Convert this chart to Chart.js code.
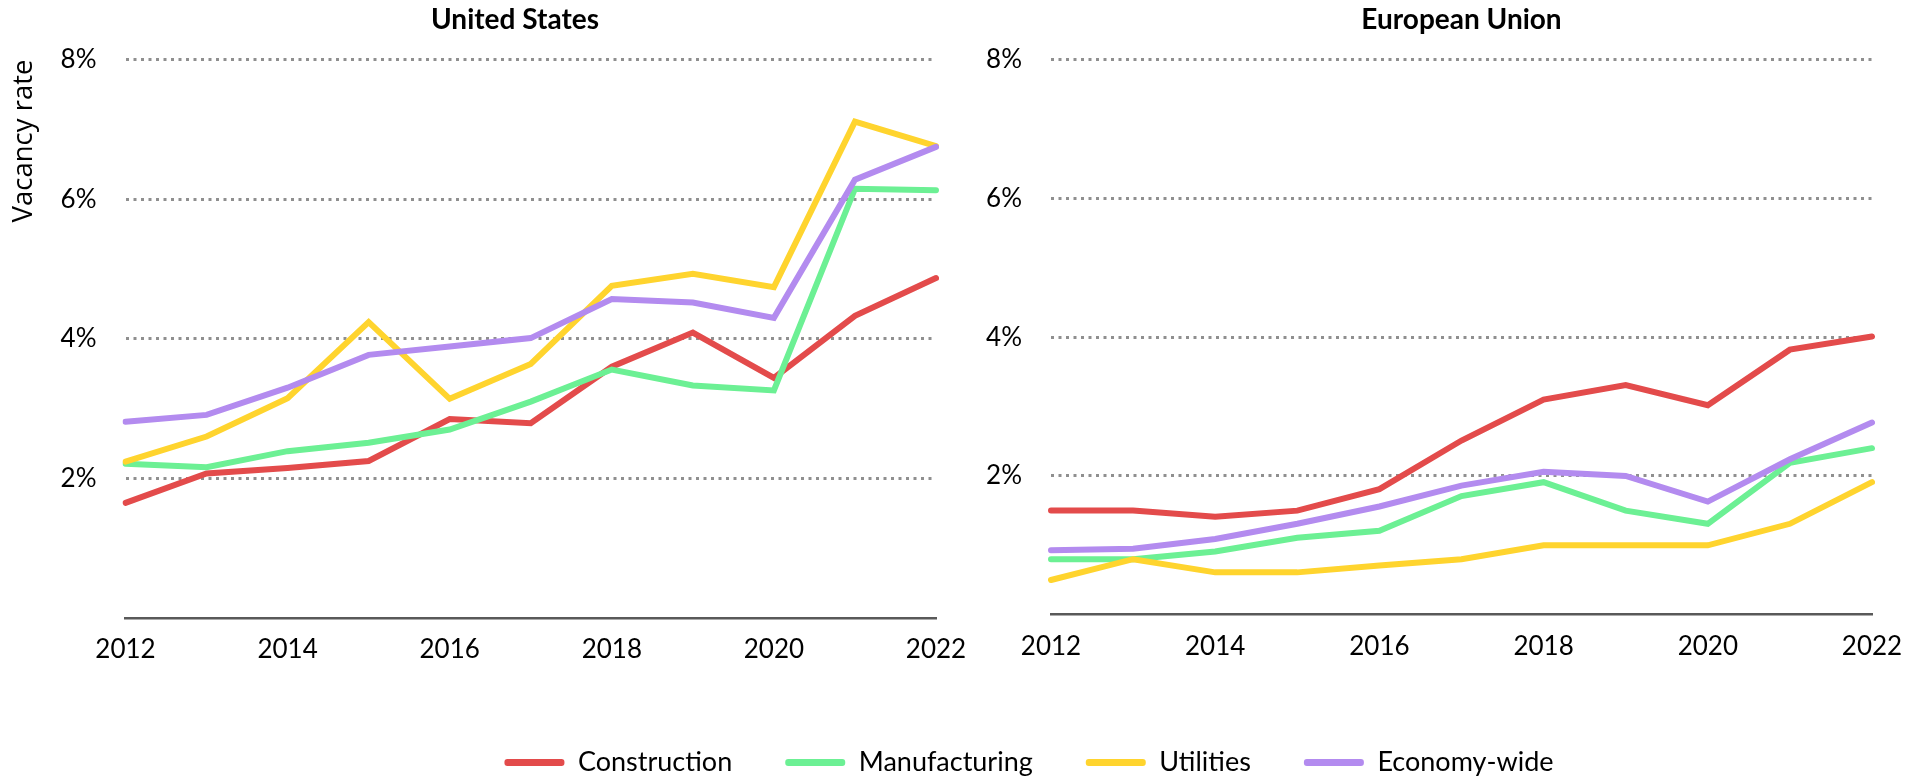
<!DOCTYPE html>
<html>
<head>
<meta charset="utf-8">
<script src="https://cdn.jsdelivr.net/npm/chart.js@4"></script>
<style>
  html, body { margin: 0; padding: 0; background: #fff; }
  body { width: 1923px; height: 777px; position: relative; overflow: hidden; }
  .panel { position: absolute; top: 0; }
  #us-wrap { left: 0; width: 1030px; height: 700px; }
  #eu-wrap { left: 135px; width: 1788px; height: 786px; }
</style>
</head>
<body>
<div class="panel" id="us-wrap"><canvas id="chart-us"></canvas></div>
<div class="panel" id="eu-wrap"><canvas id="chart-eu"></canvas></div>

<script>
const YEARS = ['2012','2013','2014','2015','2016','2017','2018','2019','2020','2021','2022'];
const SERIES = ['Construction', 'Manufacturing', 'Utilities', 'Economy-wide'];
const COLORS = ['#E34B4B', '#6CF094', '#FFD42E', '#B38BEF'];

// vacancy rate, % — United States
const US_CONSTRUCTION  = [1.65, 2.07, 2.15, 2.25, 2.85, 2.79, 3.60, 4.09, 3.44, 4.33, 4.87];
const US_MANUFACTURING = [2.21, 2.16, 2.39, 2.51, 2.70, 3.10, 3.56, 3.33, 3.26, 6.15, 6.13];
const US_UTILITIES     = [2.24, 2.60, 3.15, 4.24, 3.14, 3.64, 4.76, 4.93, 4.74, 7.11, 6.76];
const US_ECONOMY       = [2.81, 2.91, 3.30, 3.77, 3.89, 4.01, 4.57, 4.52, 4.30, 6.28, 6.75];

// vacancy rate, % — European Union
const EU_CONSTRUCTION  = [1.50, 1.50, 1.41, 1.50, 1.81, 2.51, 3.10, 3.31, 3.02, 3.82, 4.01];
const EU_MANUFACTURING = [0.80, 0.80, 0.91, 1.11, 1.21, 1.71, 1.91, 1.50, 1.31, 2.19, 2.40];
const EU_UTILITIES     = [0.50, 0.80, 0.61, 0.61, 0.71, 0.80, 1.00, 1.00, 1.00, 1.31, 1.91];
const EU_ECONOMY       = [0.93, 0.95, 1.09, 1.31, 1.56, 1.86, 2.06, 2.00, 1.63, 2.24, 2.77];

const Y_TICKS = [0, 2, 4, 6, 8];

const TICK_FONT = { family: 'Lato', size: 26 };

// ── Helpers ─────────────────────────────────────────────────────────
function datasets(rows) {
  return rows.map((data, i) => ({
    label: SERIES[i],
    data,
    borderColor: COLORS[i],
    backgroundColor: COLORS[i],
    borderWidth: 6,
    borderCapStyle: 'round',
    pointRadius: 0,
    pointHoverRadius: 0,
    tension: 0,
    fill: false,
    order: rows.length - i,   // later series drawn on top
  }));
}

// empty right-hand box: keeps the plot narrow without shrinking title/legend space
function spacer(width) {
  return {
    position: 'right',
    display: true,
    grid: { display: false },
    border: { display: false },
    ticks: { display: false },
    afterFit: s => { s.width = width; },
  };
}

// yAxisWidth: full width of the left axis box (labels + optional title)
function scales(yAxisWidth, rightWidth, withTitle, xAxisHeight) {
  return {
    x: {
      grid: { display: false, drawTicks: false },
      border: { display: true, color: '#595959', width: 2.5 },
      ticks: { font: TICK_FONT, color: '#000', padding: 16, maxRotation: 0,
               autoSkip: false, callback: (v, i) => (i % 2 === 0 ? YEARS[i] : '') },
      afterFit: s => { s.height = xAxisHeight; },
    },
    y: {
      min: Y_TICKS[0],
      max: Y_TICKS[Y_TICKS.length - 1],
      afterBuildTicks: s => { s.ticks = Y_TICKS.map(v => ({ value: v })); },
      grid: {
        drawTicks: false,
        color: ctx => (ctx.tick && ctx.tick.value === 0 ? 'rgba(0,0,0,0)' : '#8f8f8f'),
        lineWidth: 3,
      },
      border: { display: false, dash: [3, 4.5] },
      ticks: { font: TICK_FONT, color: '#000', padding: 29,
               callback: v => (v === 0 ? '' : v + '%') },
      title: withTitle
        ? { display: true, text: 'Vacancy rate', align: 'end', color: '#000',
            font: { family: 'Open Sans', size: 27.5 }, padding: { top: 8, bottom: 0 } }
        : { display: false },
      afterFit: s => { s.width = yAxisWidth; },
    },
    yRight: spacer(rightWidth),
  };
}

function titleOpts(text, fullSize) {
  return {
    display: true,
    text,
    fullSize,
    color: '#000',
    font: { family: 'Lato', size: 28, weight: 'bold' },
    padding: { top: 3, bottom: 23 },
  };
}

// ── United States ───────────────────────────────────────────────────
new Chart(document.getElementById('chart-us'), {
  type: 'line',
  data: {
    labels: YEARS,
    datasets: datasets([US_CONSTRUCTION, US_MANUFACTURING, US_UTILITIES, US_ECONOMY]),
  },
  options: {
    responsive: true,
    maintainAspectRatio: false,
    animation: false,
    layout: { padding: 0 },
    plugins: {
      legend: { display: false },
      tooltip: { enabled: false },
      title: titleOpts('United States', true),
    },
    scales: scales(125.5, 94, true, 82),
  },
});

// ── European Union (carries the shared legend) ──────────────────────
new Chart(document.getElementById('chart-eu'), {
  type: 'line',
  data: {
    labels: YEARS,
    datasets: datasets([EU_CONSTRUCTION, EU_MANUFACTURING, EU_UTILITIES, EU_ECONOMY]),
  },
  options: {
    responsive: true,
    maintainAspectRatio: false,
    animation: false,
    layout: { padding: 0 },
    plugins: {
      tooltip: { enabled: false },
      title: titleOpts('European Union', false),
      legend: {
        position: 'bottom',
        reverse: true,
        labels: {
          font: { family: 'Lato', size: 27 },
          color: '#000',
          boxWidth: 60,
          boxHeight: 7,
          padding: 53,
          generateLabels: chart =>
            Chart.defaults.plugins.legend.labels.generateLabels(chart)
              .map(l => ({ ...l, lineWidth: 0, borderRadius: 3 })),
        },
      },
    },
    scales: scales(916, 51, false, 81.3),
  },
});
</script>
</body>
</html>
